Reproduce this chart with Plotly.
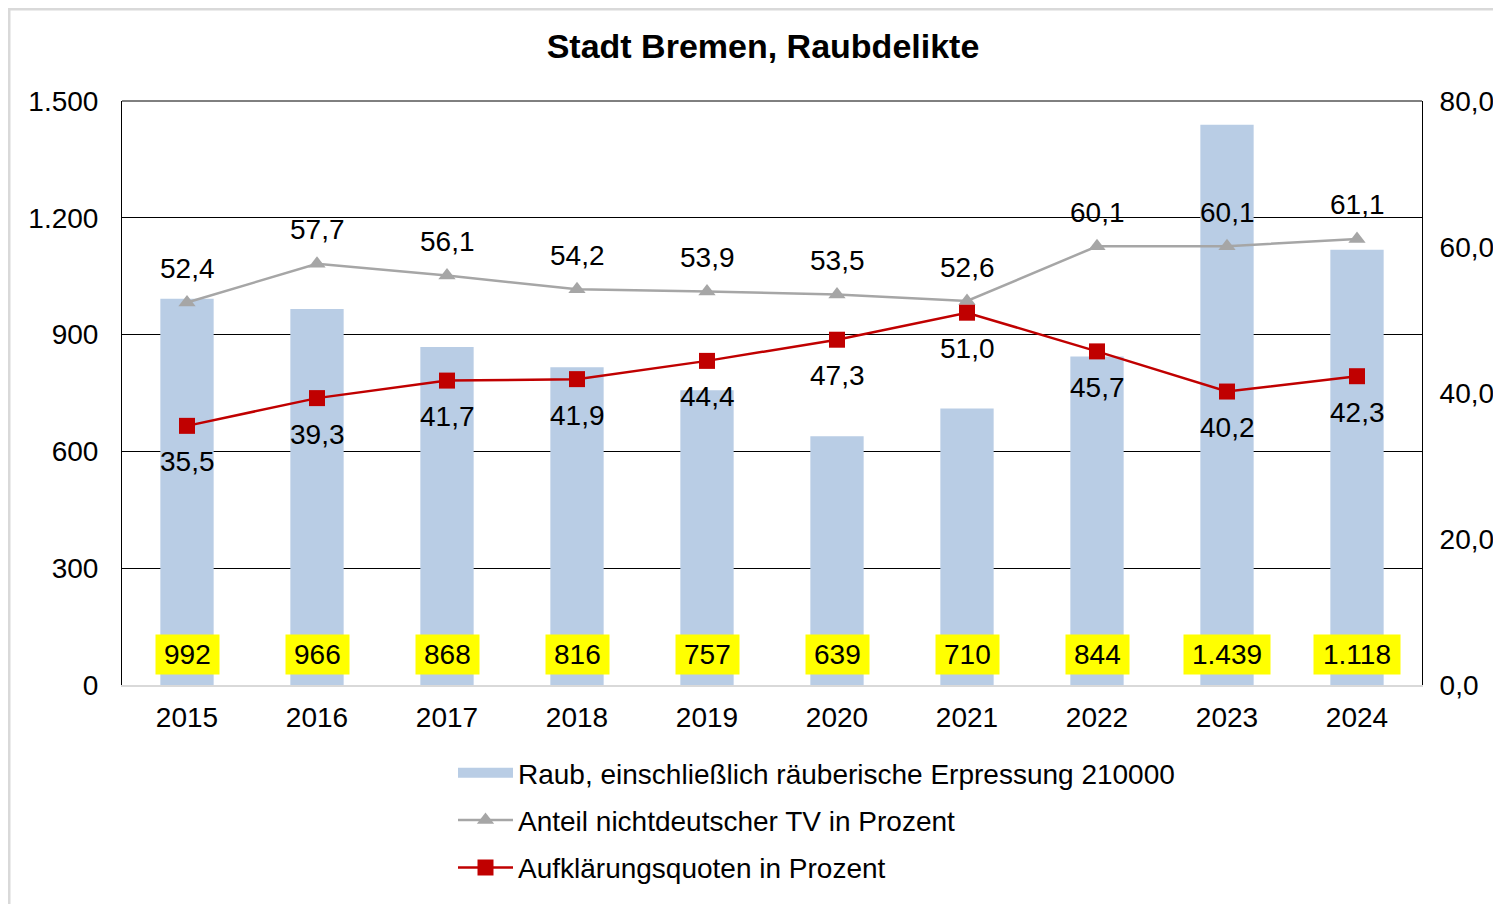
import plotly.graph_objects as go

years = [2015, 2016, 2017, 2018, 2019, 2020, 2021, 2022, 2023, 2024]
raub = [992, 966, 868, 816, 757, 639, 710, 844, 1439, 1118]
anteil_ntv = [52.4, 57.7, 56.1, 54.2, 53.9, 53.5, 52.6, 60.1, 60.1, 61.1]
aufklaerung = [35.5, 39.3, 41.7, 41.9, 44.4, 47.3, 51.0, 45.7, 40.2, 42.3]

name_bar = "Raub, einschließlich räuberische Erpressung 210000"
name_ntv = "Anteil nichtdeutscher TV in Prozent"
name_auf = "Aufklärungsquoten in Prozent"
title = "Stadt Bremen, Raubdelikte"

FONT = "Liberation Sans, Arial, sans-serif"
FS = 28
BAR_COLOR = "#b9cde5"
GRAY = "#a6a6a6"
RED = "#c00000"

# page offset of the figure inside the html body (default body margin)
OFF = 8
L, T, W, H = 122 - OFF, 101 - OFF, 1300, 584


def px_x(p):
    return (p - OFF - L) / W


def px_y(p):
    return (T + H - (p - OFF)) / H


def fmt_de(v, dec=None):
    if dec is None:
        return f"{v:,}".replace(",", ".")
    return f"{v:.{dec}f}".replace(".", ",")


def text_w(s):
    # approximate Liberation Sans width of a numeric label
    return sum(0.278 if c in ".," else 0.556 for c in s) * FS


fig = go.Figure()
fig.add_trace(go.Bar(
    x=years, y=raub, name=name_bar, marker=dict(color=BAR_COLOR, line=dict(width=0)),
    showlegend=False, yaxis="y",
))
# legend proxy for the bar series (wide rectangle swatch)
fig.add_trace(go.Scatter(
    x=[None], y=[None], name=name_bar, mode="lines",
    line=dict(color=BAR_COLOR, width=18), legendgroup="a",
))
fig.add_trace(go.Scatter(
    x=years, y=anteil_ntv, name=name_ntv, yaxis="y2", mode="lines+markers",
    line=dict(color=GRAY, width=2.5),
    marker=dict(symbol="triangle-up", size=15, color=GRAY),
    legendgroup="b",
))
fig.add_trace(go.Scatter(
    x=years, y=aufklaerung, name=name_auf, yaxis="y2", mode="lines+markers",
    line=dict(color=RED, width=2.5),
    marker=dict(symbol="square", size=16, color=RED),
    legendgroup="c",
))

annotations = []
for yr, v in zip(years, raub):
    s = fmt_de(v)
    annotations.append(dict(
        x=yr, y=0, xref="x", yref="y", yanchor="bottom", yshift=10,
        text=s, showarrow=False, width=text_w(s) + 8,
        font=dict(size=FS, color="black", family=FONT),
        bgcolor="#ffff00", borderpad=4,
    ))
for yr, v in zip(years, anteil_ntv):
    annotations.append(dict(
        x=yr, y=v, xref="x", yref="y2", yanchor="middle", yshift=34,
        text=fmt_de(v, 1), showarrow=False,
        font=dict(size=FS, color="black", family=FONT),
    ))
for yr, v in zip(years, aufklaerung):
    annotations.append(dict(
        x=yr, y=v, xref="x", yref="y2", yanchor="middle", yshift=-36,
        text=fmt_de(v, 1), showarrow=False,
        font=dict(size=FS, color="black", family=FONT),
    ))

fig.update_layout(
    width=1501, height=904,
    margin=dict(l=L, r=1501 - L - W, t=T, b=904 - T - H, autoexpand=False),
    paper_bgcolor="white", plot_bgcolor="white",
    separators=",.",
    font=dict(family=FONT, size=FS, color="black"),
    title=dict(text="<b>" + title + "</b>", x=(763 - OFF) / 1501, xref="container", xanchor="center",
               y=1 - (46 - OFF) / 904, yref="container", yanchor="middle",
               font=dict(size=34, family=FONT, color="black")),
    bargap=0.59,
    showlegend=True,
    legend=dict(x=px_x(453), xanchor="left", y=px_y(748), yanchor="top",
                font=dict(size=FS, family=FONT, color="black"),
                traceorder="grouped", tracegroupgap=8, itemwidth=55, bgcolor="rgba(0,0,0,0)"),
    xaxis=dict(range=[min(years) - 0.5, max(years) + 0.5], tickmode="array", tickvals=years,
               tickformat="d", showline=True, linecolor="#d9d9d9", linewidth=2,
               showgrid=False, zeroline=False, ticks="", ticklabelstandoff=6, automargin=False,
               tickfont=dict(size=FS, family=FONT, color="black")),
    yaxis=dict(range=[0, 1500], dtick=300, tickformat=",d", showline=True, linecolor="black",
               linewidth=1, showgrid=True, gridcolor="black", gridwidth=1, zeroline=False,
               ticks="", ticklabelstandoff=17, automargin=False,
               tickfont=dict(size=FS, family=FONT, color="black")),
    yaxis2=dict(range=[0, 80], dtick=20, tickformat=".1f", overlaying="y", side="right",
                showline=True, linecolor="black", linewidth=1, showgrid=False, zeroline=False,
                ticks="", ticklabelstandoff=11, automargin=False,
                tickfont=dict(size=FS, family=FONT, color="black")),
    annotations=annotations,
    shapes=[
        dict(type="line", xref="paper", yref="paper", x0=0, x1=1, y0=1, y1=1,
             line=dict(color="black", width=1), layer="above"),
        dict(type="line", xref="paper", yref="paper", x0=px_x(9), x1=px_x(9),
             y0=px_y(8), y1=px_y(950), line=dict(color="#d9d9d9", width=3)),
        dict(type="line", xref="paper", yref="paper", x0=px_x(8), x1=px_x(1560),
             y0=px_y(9), y1=px_y(9), line=dict(color="#d9d9d9", width=3)),
    ],
)

fig.write_html("out.html")
